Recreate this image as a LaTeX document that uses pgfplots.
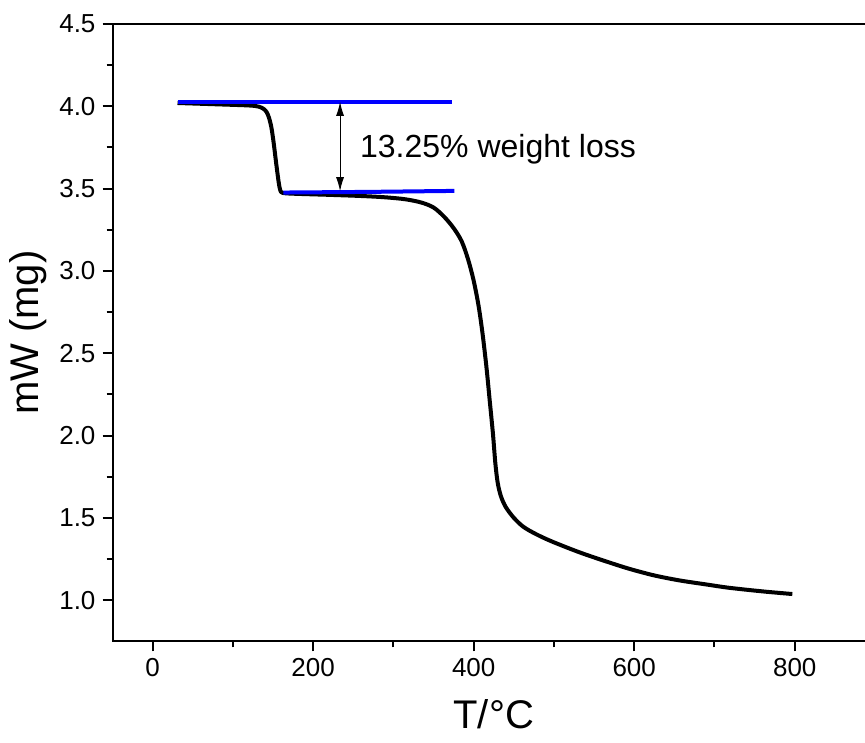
\documentclass[border=0pt]{standalone}
\usepackage{fontspec}
\setmainfont{Liberation Sans}
\usepackage{pgfplots}
\pgfplotsset{compat=1.18}
\usetikzlibrary{arrows.meta}

\begin{document}
\begin{tikzpicture}
\begin{axis}[
    name=ax,
    scale only axis,
    width=381.2pt, height=308.6pt,
    xmin=-50, xmax=900,
    ymin=0.75, ymax=4.5,
    xtick={0,200,400,600,800},
    ytick={1.0,1.5,2.0,2.5,3.0,3.5,4.0,4.5},
    minor x tick num=1,
    minor y tick num=1,
    xtick pos=bottom, ytick pos=left,
    tick align=outside,
    major tick length=5pt,
    minor tick length=3pt,
    every tick/.style={black, line width=1pt},
    axis line style={line width=1pt},
    yticklabel style={/pgf/number format/.cd, fixed, fixed zerofill, precision=1},
    /pgf/number format/assume math mode=true,
    ticklabel style={font=\fontsize{13}{15}\selectfont},
    xlabel={T/°C},
    ylabel={mW (mg)},
    label style={font=\fontsize{20}{23}\selectfont},
    xlabel style={at={(axis description cs:0.5,-0.118)}, anchor=center},
    ylabel style={at={(axis description cs:-0.11,0.5)}, anchor=center},
    clip=false,
]
% TGA curve
\addplot[black, line width=2pt, line join=round, smooth, tension=0.5] coordinates {
(31,4.020) (80,4.012) (120,4.005) (132,3.998) (138,3.985) (142,3.965)
(145,3.93) (148,3.87) (151,3.77) (154,3.65) (157,3.54) (159,3.49)
(162,3.474) (175,3.469) (220,3.462) (260,3.455) (290,3.447) (315,3.435)
(335,3.415) (350,3.385) (363,3.33) (375,3.26) (385,3.18) (393,3.07)
(400,2.94) (406,2.79) (411,2.62) (416,2.41) (420,2.21) (424,2.01)
(427,1.83) (430,1.71) (434,1.63) (440,1.565) (450,1.50) (462,1.445)
(478,1.40) (498,1.355) (532,1.29) (565,1.235) (594,1.19) (625,1.15)
(656,1.12) (690,1.095) (718,1.075) (760,1.053) (797,1.037)
};
% baselines
\addplot[blue, line width=2pt] coordinates {(31,4.027) (373,4.027)};
\addplot[blue, line width=2pt] coordinates {(163,3.476) (270,3.480) (376,3.486)};
\draw[{Latex[length=7pt,width=4pt]}-{Latex[length=7pt,width=4pt]}, line width=0.5pt]
    (axis cs:233.5,4.027) -- (axis cs:233.5,3.484);
\node[anchor=west, inner sep=0pt, font=\fontsize{16}{19}\selectfont]
    at (axis cs:258,3.737) {13.25\% weight loss};
\end{axis}
\pgfresetboundingbox
\path[use as bounding box] ([xshift=-56.25pt,yshift=-50.5pt]ax.south west)
    rectangle ([xshift=-5pt,yshift=12pt]ax.north east);
\end{tikzpicture}
\end{document}
